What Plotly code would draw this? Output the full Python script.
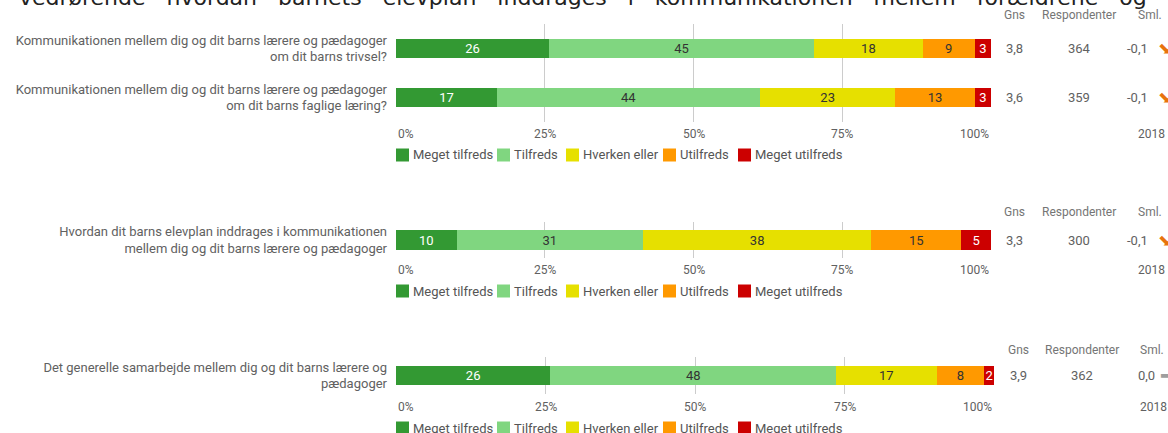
import plotly.graph_objects as go

W, H = 1168, 433

# ---------------- data ----------------
categories = ["Meget tilfreds", "Tilfreds", "Hverken eller", "Utilfreds", "Meget utilfreds"]
colors = ["#339933", "#80d680", "#e6e000", "#ff9900", "#cc0000"]
label_colors = ["#ffffff", "#333333", "#333333", "#333333", "#ffffff"]

tick_values = [0, 25, 50, 75, 100]
tick_labels = ["0%", "25%", "50%", "75%", "100%"]

title_words = ["vedrørende", "hvordan", "barnets", "elevplan", "inddrages", "i",
               "kommunikationen", "mellem", "forældrene", "og"]

col_headers = ["Gns", "Respondenter", "Sml."]
year_label = "2018"

# panel 1
p1_questions = ["Kommunikationen mellem dig og dit barns lærere og pædagoger<br>om dit barns trivsel?",
                "Kommunikationen mellem dig og dit barns lærere og pædagoger<br>om dit barns faglige læring?"]
p1_values = [[25.7, 17.0], [44.6, 44.2], [18.2, 22.7], [8.8, 13.4], [2.7, 2.7]]
p1_gns = ["3,8", "3,6"]
p1_resp = ["364", "359"]
p1_sml = ["-0,1", "-0,1"]
p1_trend = ["down", "down"]

# panel 2
p2_questions = ["Hvordan dit barns elevplan inddrages i kommunikationen<br>mellem dig og dit barns lærere og pædagoger"]
p2_values = [[10.2], [31.3], [38.4], [15.1], [5.0]]
p2_gns = ["3,3"]
p2_resp = ["300"]
p2_sml = ["-0,1"]
p2_trend = ["down"]

# panel 3
p3_questions = ["Det generelle samarbejde mellem dig og dit barns lærere og<br>pædagoger"]
p3_values = [[25.8], [47.8], [16.8], [8.0], [1.6]]
p3_gns = ["3,9"]
p3_resp = ["362"]
p3_sml = ["0,0"]
p3_trend = ["flat"]

# ---------------- layout constants (pixels) ----------------
FONT = "Roboto"
GRAY = "#616161"
panels = [
    dict(q=p1_questions, v=p1_values, gns=p1_gns, resp=p1_resp, sml=p1_sml, trend=p1_trend,
         top=24, bottom=122, x0=396, x1=991, header_y=15, tick_y=134, legend_y=155,
         bar_w=0.39, cols=(1015, 1079, 1137, 1156, 1150, 1151)),
    dict(q=p2_questions, v=p2_values, gns=p2_gns, resp=p2_resp, sml=p2_sml, trend=p2_trend,
         top=222, bottom=258, x0=396, x1=991, header_y=212, tick_y=270, legend_y=291,
         bar_w=0.56, cols=(1015, 1079, 1137, 1156, 1150, 1151)),
    dict(q=p3_questions, v=p3_values, gns=p3_gns, resp=p3_resp, sml=p3_sml, trend=p3_trend,
         top=357, bottom=394, x0=396, x1=994, header_y=350, tick_y=407, legend_y=428,
         bar_w=0.53, cols=(1018, 1082, 1146, 1158, 1152, 1153)),
]
legend_offsets = [0, 101, 170, 267, 342]


def px(x):
    return x / W


def py(y):
    return 1 - y / H


fig = go.Figure()
annotations = []
shapes = []

for i, p in enumerate(panels):
    n = i + 1
    xa = "x" if n == 1 else f"x{n}"
    ya = "y" if n == 1 else f"y{n}"
    for c, cat in enumerate(categories):
        fig.add_trace(go.Bar(
            x=p["v"][c], y=p["q"], orientation="h", name=cat,
            marker=dict(color=colors[c], line=dict(width=0)),
            width=p["bar_w"],
            texttemplate="%{x:.0f}", textposition="inside", insidetextanchor="middle",
            textangle=0, textfont=dict(family=FONT, size=13, color=label_colors[c]),
            xaxis=xa, yaxis=ya, showlegend=False, hoverinfo="skip",
        ))
    xkey = "xaxis" if n == 1 else f"xaxis{n}"
    ykey = "yaxis" if n == 1 else f"yaxis{n}"
    fig.update_layout(**{
        xkey: dict(domain=[px(p["x0"]), px(p["x1"])], range=[0, 100], anchor=ya,
                   tickvals=tick_values, showticklabels=False, showgrid=True,
                   gridcolor="#cccccc", gridwidth=1, zeroline=False, showline=False,
                   fixedrange=True),
        ykey: dict(domain=[py(p["bottom"]), py(p["top"])], anchor=xa, type="category",
                   autorange="reversed", showgrid=False, zeroline=False, showline=False,
                   ticks="", ticklabelstandoff=8, fixedrange=True,
                   tickfont=dict(family=FONT, size=13, color=GRAY)),
    })
    # tick labels under axis
    for tv, tl in zip(tick_values, tick_labels):
        anchor = "left" if tv == tick_values[0] else ("right" if tv == tick_values[-1] else "center")
        annotations.append(dict(x=tv, xref=xa, y=py(p["tick_y"]), yref="paper", text=tl,
                                xanchor=anchor, yanchor="middle", showarrow=False,
                                font=dict(family=FONT, size=12, color=GRAY)))
    # legend
    for c, cat in enumerate(categories):
        lx = p["x0"] + legend_offsets[c]
        shapes.append(dict(type="rect", xref="paper", yref="paper",
                           x0=px(lx), x1=px(lx + 13), y0=py(p["legend_y"] + 6.5),
                           y1=py(p["legend_y"] - 6.5), fillcolor=colors[c], line=dict(width=0)))
        annotations.append(dict(x=px(lx + 15), xref="paper", y=py(p["legend_y"]), yref="paper",
                                text=cat, xanchor="left", yanchor="middle", showarrow=False,
                                font=dict(family=FONT, size=13, color="#555555")))
    # right-side columns
    cg, cr, cs, ca, chs, cy = p["cols"]
    for hx, ht in zip((cg, cr, chs), col_headers):
        annotations.append(dict(x=px(hx), xref="paper", y=py(p["header_y"]), yref="paper",
                                text=ht, xanchor="center", yanchor="middle", showarrow=False,
                                font=dict(family=FONT, size=12, color="#757575")))
    annotations.append(dict(x=px(cy), xref="paper", y=py(p["tick_y"]), yref="paper",
                            text=year_label, xanchor="center", yanchor="middle", showarrow=False,
                            font=dict(family=FONT, size=12, color=GRAY)))
    for q, g, r, s, t in zip(p["q"], p["gns"], p["resp"], p["sml"], p["trend"]):
        for vx, vt in ((cg, g), (cr, r), (cs, s)):
            annotations.append(dict(x=px(vx), xref="paper", y=q, yref=ya, text=vt,
                                    xanchor="center", yanchor="middle", showarrow=False,
                                    font=dict(family=FONT, size=13, color=GRAY)))
        glyph = "⬊" if t == "down" else "➡"
        gcol = "#e8730c" if t == "down" else "#9e9e9e"
        annotations.append(dict(x=px(ca), xref="paper", y=q, yref=ya, text=glyph,
                                xanchor="left", yanchor="middle", showarrow=False,
                                font=dict(family="DejaVu Sans", size=16, color=gcol)))

# cut-off heading at the very top
sep = "\u00a0\u00a0\u00a0"
annotations.append(dict(x=px(17), xref="paper", y=py(12), yref="paper",
                        text=sep.join(title_words), xanchor="left", yanchor="bottom",
                        showarrow=False, font=dict(family="DejaVu Sans", size=22, color="#222222")))

fig.update_layout(
    width=W, height=H, margin=dict(l=0, r=0, t=0, b=0, pad=0),
    paper_bgcolor="white", plot_bgcolor="white",
    barmode="stack", showlegend=False,
    uniformtext=dict(minsize=13, mode="show"),
    annotations=annotations, shapes=shapes,
    font=dict(family=FONT),
)

fig.write_html("out.html", config={"displayModeBar": False},
               post_script="document.body.style.margin='0';document.body.style.overflow='hidden';")
